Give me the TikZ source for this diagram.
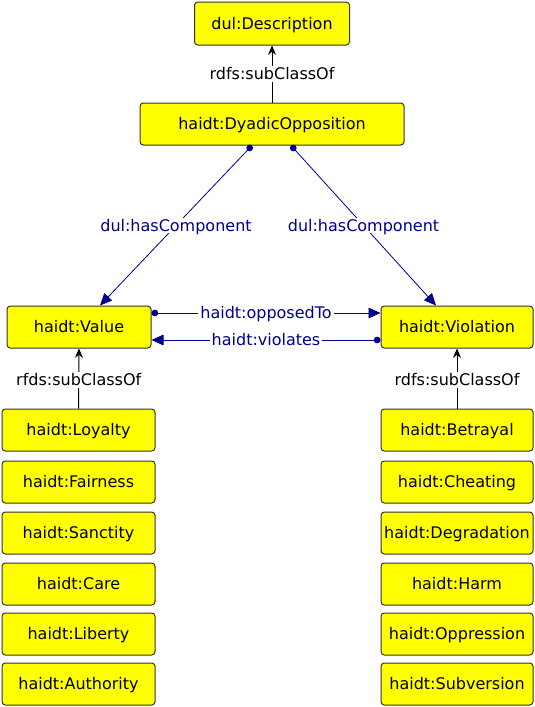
\documentclass[tikz,border=0pt]{standalone}
\usepackage{fontspec}
\setmainfont{DejaVu Sans}
\usetikzlibrary{arrows.meta}

\definecolor{owlyellow}{RGB}{255,255,0}
\definecolor{propblue}{RGB}{0,0,140}

\tikzset{
  classbox/.style={draw=black!80, line width=0.75pt, fill=owlyellow,
    rounded corners=2.5pt, font=\fontsize{12}{14}\selectfont,
    text height=8.75pt, text depth=0pt,
    minimum height=31.5pt, inner sep=0pt, anchor=center},
  subclass/.style={draw=black, line width=0.75pt, -{Stealth[length=7pt,width=6pt]}},
  objprop/.style={draw=propblue, line width=0.6pt,
    {Circle[length=5pt]}-{Triangle[length=9pt,width=8pt]}},
  edgelabel/.style={fill=white, inner sep=1.5pt, font=\fontsize{12}{14}\selectfont,
    text height=8.75pt, text depth=0pt},
  proplabel/.style={edgelabel, text=propblue}
}

\begin{document}
\begin{tikzpicture}[x=0.75pt, y=-0.75pt]

  %Canvas
  \useasboundingbox (0,0) rectangle (535,707);

  %Top classes
  \node [classbox, minimum width=116.25pt, minimum height=32.25pt] (description) at (272,23.5) {dul:Description};
  \node [classbox, minimum width=198pt] (dyadic) at (272,124) {haidt:DyadicOpposition};

  %Value and Violation
  \node [classbox, minimum width=108pt] (value) at (79,327) {haidt:Value};
  \node [classbox, minimum width=114pt] (violation) at (457,327) {haidt:Violation};

  %Values column
  \node [classbox, minimum width=114.75pt] (loyalty)   at (78.5,430) {haidt:Loyalty};
  \node [classbox, minimum width=114.75pt] (fairness)  at (78.5,482) {haidt:Fairness};
  \node [classbox, minimum width=114.75pt] (sanctity)  at (78.5,533) {haidt:Sanctity};
  \node [classbox, minimum width=114.75pt] (care)      at (78.5,584) {haidt:Care};
  \node [classbox, minimum width=114.75pt] (liberty)   at (78.5,634) {haidt:Liberty};
  \node [classbox, minimum width=114.75pt] (authority) at (78.5,684) {haidt:Authority};

  %Violations column
  \node [classbox, minimum width=114pt] (betrayal)    at (457,430) {haidt:Betrayal};
  \node [classbox, minimum width=114pt] (cheating)    at (457,482) {haidt:Cheating};
  \node [classbox, minimum width=114pt] (degradation) at (457,533) {haidt:Degradation};
  \node [classbox, minimum width=114pt] (harm)        at (457,584) {haidt:Harm};
  \node [classbox, minimum width=114pt] (oppression)  at (457,634) {haidt:Oppression};
  \node [classbox, minimum width=114pt] (subversion)  at (457,684) {haidt:Subversion};

  %Subclass links
  \draw [subclass] (dyadic.north) -- node [edgelabel] {rdfs:subClassOf} (description.south);
  \draw [subclass] (loyalty.north) -- node [edgelabel, pos=0.48] {rfds:subClassOf} (value.south);
  \draw [subclass] (betrayal.north) -- node [edgelabel, pos=0.48] {rdfs:subClassOf} (violation.south);

  %Components
  \draw [objprop] ([xshift=-15pt]dyadic.south) -- node [proplabel] {dul:hasComponent}
    ([xshift=15.75pt]value.north);
  \draw [objprop] ([xshift=14.25pt]dyadic.south) -- node [proplabel] {dul:hasComponent}
    ([xshift=-15.75pt]violation.north);

  %Opposition
  \draw [objprop] ([yshift=10.5pt]value.east) -- node [proplabel] {haidt:opposedTo}
    ([yshift=10.5pt]violation.west);
  \draw [objprop] ([yshift=-9.75pt]violation.west) -- node [proplabel] {haidt:violates}
    ([yshift=-9.75pt]value.east);

\end{tikzpicture}
\end{document}
